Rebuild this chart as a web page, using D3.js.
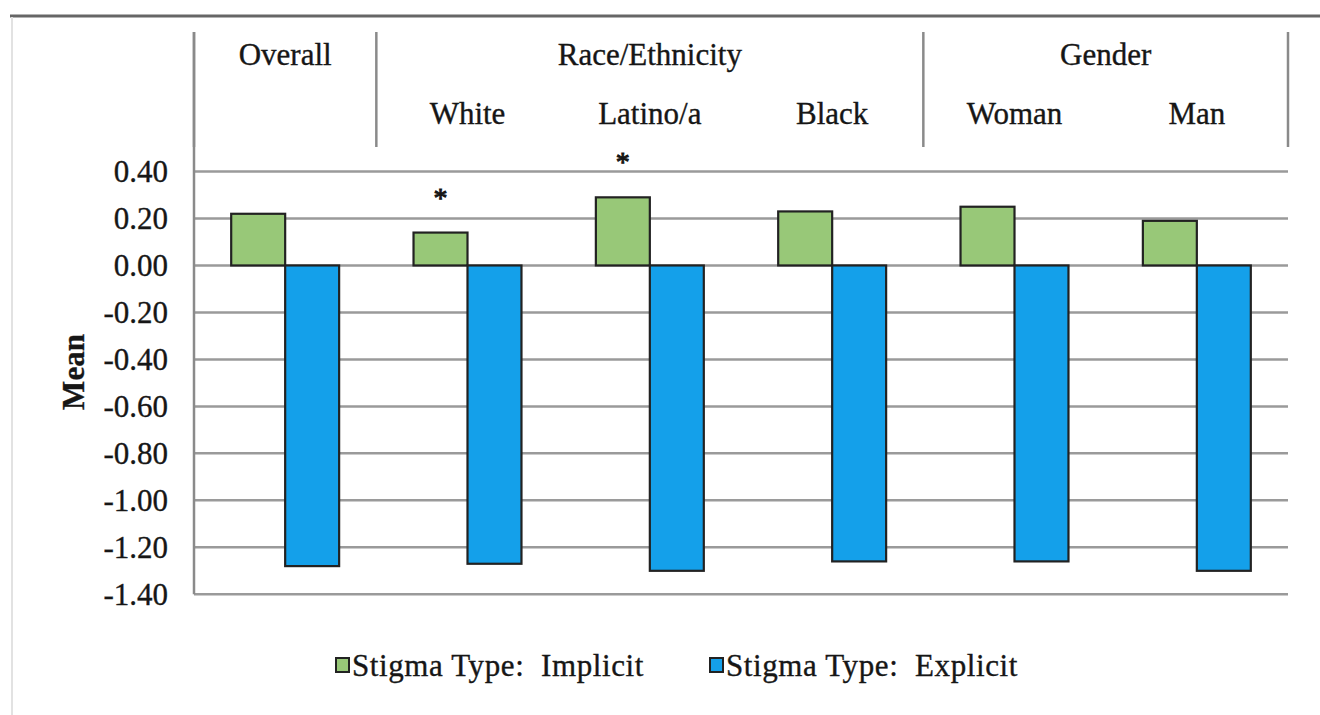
<!DOCTYPE html>
<html><head><meta charset="utf-8">
<script src="https://cdnjs.cloudflare.com/ajax/libs/d3/7.8.5/d3.min.js"></script>
<style>body{margin:0;background:#fff}svg{display:block}text{white-space:pre}</style>
</head><body><svg id="c" width="1320" height="715"></svg>
<script>
const categories = ["Overall","White","Latino/a","Black","Woman","Man"];
const subLabels = ["","White","Latino/a","Black","Woman","Man"];
const groupLabels = ["Overall","Race/Ethnicity","Gender"];
const groupStart = [0,1,4];
const groupEnd = [0,3,5];
const seriesNames = ["Stigma Type:  Implicit","Stigma Type:  Explicit"];
const implicitVals = [0.22,0.14,0.29,0.23,0.25,0.19];
const explicitVals = [-1.28,-1.27,-1.30,-1.26,-1.26,-1.30];
const significant = [false,true,true,false,false,false];
const tickValues = [0.4,0.2,0,-0.2,-0.4,-0.6,-0.8,-1.0,-1.2,-1.4];
const tickLabels = ["0.40","0.20","0.00","-0.20","-0.40","-0.60","-0.80","-1.00","-1.20","-1.40"];
const colors = ["#98c878","#14a0ea"];

const svg = d3.select("#c");
const font = "'Liberation Serif','Times New Roman',serif";
const L=194,R=1288,T=171.5,B=594.3;
const x0 = d3.scaleBand().domain(categories).range([L,R]).padding(0);
const bw = x0.bandwidth();
const x1 = d3.scaleBand().domain(seriesNames).range([bw*0.204,bw*0.796]).padding(0);
const y = d3.scaleLinear().domain([-1.4,0.4]).range([B,T]);

function txt(sel){ return sel.attr("font-family",font).attr("font-size",31).attr("fill","#161616").attr("stroke","#161616").attr("stroke-width",0.35); }

// outer frame lines
svg.append("line").attr("x1",10).attr("x2",1320).attr("y1",16).attr("y2",16).attr("stroke","#666").attr("stroke-width",3);
svg.append("line").attr("x1",12).attr("x2",12).attr("y1",17).attr("y2",715).attr("stroke","#e2e2e2").attr("stroke-width",2);

// gridlines
svg.append("g").selectAll("line").data(tickValues).join("line")
  .attr("x1",L).attr("x2",R).attr("y1",d=>y(d)).attr("y2",d=>y(d))
  .attr("stroke","#9a9a9a").attr("stroke-width",2.5);

// tick labels
svg.append("g").selectAll("text").data(tickValues).join("text")
  .attr("x",168).attr("y",d=>y(d)).attr("dy","0.35em").attr("text-anchor","end")
  .call(txt).text((d,i)=>tickLabels[i]);

// y axis title
svg.append("text").attr("transform","translate(84,372) rotate(-90)").attr("text-anchor","middle")
  .call(txt).attr("font-weight","bold").text("Mean");

// header separators
const seps = [L, x0(categories[1]), x0(categories[4]), R];
svg.append("g").selectAll("line").data(seps).join("line")
  .attr("x1",d=>d).attr("x2",d=>d).attr("y1",32).attr("y2",147)
  .attr("stroke","#8a8a8a").attr("stroke-width",2.5);
// left axis
svg.append("line").attr("x1",L).attr("x2",L).attr("y1",32).attr("y2",B).attr("stroke","#8a8a8a").attr("stroke-width",2.5);

// group labels
svg.append("g").selectAll("text").data(groupLabels).join("text")
  .attr("x",(d,i)=>(x0(categories[groupStart[i]])+x0(categories[groupEnd[i]])+bw)/2)
  .attr("y",65).attr("text-anchor","middle").call(txt).text(d=>d);
svg.append("g").selectAll("text").data(categories).join("text")
  .attr("x",d=>x0(d)+bw/2).attr("y",124).attr("text-anchor","middle")
  .call(txt).text((d,i)=>subLabels[i]);

// bars
const rows = categories.map((c,i)=>({c,vals:[implicitVals[i],explicitVals[i]]}));
const g = svg.append("g").selectAll("g").data(rows).join("g").attr("transform",d=>`translate(${x0(d.c)},0)`);
g.selectAll("rect").data(d=>d.vals.map((v,k)=>({v,k}))).join("rect")
  .attr("x",d=>x1(seriesNames[d.k])).attr("width",x1.bandwidth())
  .attr("y",d=>Math.min(y(d.v),y(0))).attr("height",d=>Math.abs(y(d.v)-y(0)))
  .attr("fill",d=>colors[d.k]).attr("stroke","#222").attr("stroke-width",2.2);

// significance asterisks
svg.append("g").selectAll("text").data(categories.filter((c,i)=>significant[i])).join("text")
  .attr("x",d=>x0(d)+x1(seriesNames[0])+x1.bandwidth()/2)
  .attr("y",d=>y(implicitVals[categories.indexOf(d)])-40+14)
  .attr("text-anchor","middle").call(txt).attr("font-size",28).attr("stroke-width",1).text("*");

// legend
const legX = [336,710];
const lg = svg.append("g").selectAll("g").data(seriesNames).join("g").attr("transform",(d,i)=>`translate(${legX[i]},665)`);
lg.append("rect").attr("x",0).attr("y",-7).attr("width",13).attr("height",14)
  .attr("fill",(d,i)=>colors[i]).attr("stroke","#222").attr("stroke-width",2);
lg.append("text").attr("x",16).attr("y",0).attr("dy","0.35em")
  .call(txt).attr("letter-spacing",0.6).text(d=>d);
</script></body></html>
